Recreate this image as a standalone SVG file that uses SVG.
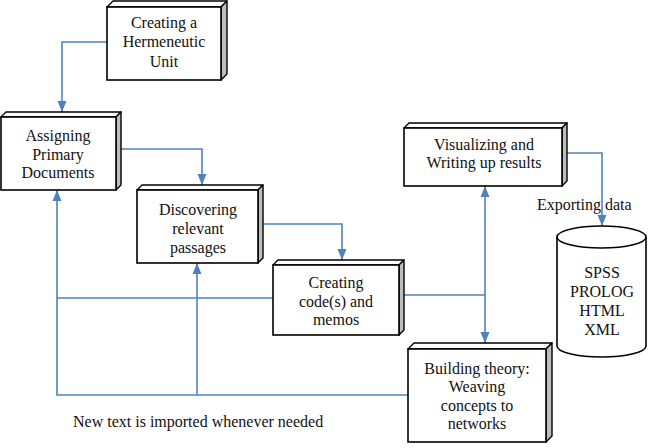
<svg xmlns="http://www.w3.org/2000/svg" width="651" height="448" viewBox="0 0 651 448">
<style>
.front{fill:#fff;stroke:#000;stroke-width:1.6}
.top{fill:#fff;stroke:#000;stroke-width:1.4;stroke-linejoin:round}
.side{fill:#bdbdbd;stroke:#000;stroke-width:1.4;stroke-linejoin:round}
.t{font-family:"Liberation Serif","Times New Roman",serif;font-size:16px;fill:#111;text-anchor:middle}
.lbl{font-family:"Liberation Serif","Times New Roman",serif;font-size:16px;fill:#111}
.c{fill:none;stroke:#4f81bd;stroke-width:1.6}
</style>
<defs>
<marker id="ah" markerUnits="userSpaceOnUse" markerWidth="12" markerHeight="12" viewBox="0 0 12 12" refX="11" refY="6" orient="auto-start-reverse">
<path d="M0,1.5 L11,6 L0,10.5 Z" fill="#4f81bd"/>
</marker>
</defs>
<rect width="651" height="448" fill="#fff"/>
<g id="connectors">
<path class="c" d="M107,42 H62 V112" marker-end="url(#ah)"/>
<path class="c" d="M121,149 H202 V185" marker-end="url(#ah)"/>
<path class="c" d="M263,224 H342 V260" marker-end="url(#ah)"/>
<path class="c" d="M404,295 H485"/>
<path class="c" d="M485,186 V343" marker-start="url(#ah)" marker-end="url(#ah)"/>
<path class="c" d="M567,153 H602 V226" marker-end="url(#ah)"/>
<path class="c" d="M273,298 H57"/>
<path class="c" d="M408,395 H57 V190" marker-end="url(#ah)"/>
<path class="c" d="M197,395 V263" marker-end="url(#ah)"/>
</g>
<g id="n1">
<path class="top" d="M107,7 L113,1 L227,1 L221,7 Z"/>
<path class="side" d="M221,7 L227,1 L227,74 L221,80 Z"/>
<rect class="front" x="107" y="7" width="114" height="73"/>
<text class="t" x="164" y="28">Creating a</text>
<text class="t" x="164" y="47">Hermeneutic</text>
<text class="t" x="164" y="67">Unit</text>
</g>
<g id="n2">
<path class="top" d="M1,117 L6,112 L121,112 L116,117 Z"/>
<path class="side" d="M116,117 L121,112 L121,185 L116,190 Z"/>
<rect class="front" x="1" y="117" width="115" height="73"/>
<text class="t" x="58" y="141">Assigning</text>
<text class="t" x="58" y="160">Primary</text>
<text class="t" x="58" y="178">Documents</text>
</g>
<g id="n3">
<path class="top" d="M137,190 L142,185 L263,185 L258,190 Z"/>
<path class="side" d="M258,190 L263,185 L263,258 L258,263 Z"/>
<rect class="front" x="137" y="190" width="121" height="73"/>
<text class="t" x="198" y="215">Discovering</text>
<text class="t" x="198" y="234">relevant</text>
<text class="t" x="198" y="253">passages</text>
</g>
<g id="n4">
<path class="top" d="M273,265 L278,260 L404,260 L399,265 Z"/>
<path class="side" d="M399,265 L404,260 L404,330 L399,335 Z"/>
<rect class="front" x="273" y="265" width="126" height="70"/>
<text class="t" x="336" y="288">Creating</text>
<text class="t" x="336" y="307">code(s) and</text>
<text class="t" x="336" y="325">memos</text>
</g>
<g id="n5">
<path class="top" d="M404,128 L409,123 L567,123 L562,128 Z"/>
<path class="side" d="M562,128 L567,123 L567,181 L562,186 Z"/>
<rect class="front" x="404" y="128" width="158" height="58"/>
<text class="t" x="484" y="150">Visualizing and</text>
<text class="t" x="484" y="168">Writing up results</text>
</g>
<g id="n6">
<path class="top" d="M408,349 L414,343 L552,343 L546,349 Z"/>
<path class="side" d="M546,349 L552,343 L552,436 L546,442 Z"/>
<rect class="front" x="408" y="349" width="138" height="93"/>
<text class="t" x="477" y="374">Building theory:</text>
<text class="t" x="477" y="392">Weaving</text>
<text class="t" x="477" y="411">concepts to</text>
<text class="t" x="477" y="429">networks</text>
</g>
<g id="n7">
<path d="M557,237 V346 A44.5,11 0 0 0 646,346 V237" fill="#fff" stroke="#000" stroke-width="1.6"/>
<ellipse cx="601.5" cy="237" rx="44.5" ry="11" fill="#fff" stroke="#000" stroke-width="1.6"/>
<text class="t" x="602" y="278">SPSS</text>
<text class="t" x="602" y="297">PROLOG</text>
<text class="t" x="602" y="316">HTML</text>
<text class="t" x="602" y="335">XML</text>
</g>
<g id="labels">
<text class="lbl" x="537" y="210">Exporting data</text>
<text class="lbl" x="73" y="427">New text is imported whenever needed</text>
</g>
</svg>
